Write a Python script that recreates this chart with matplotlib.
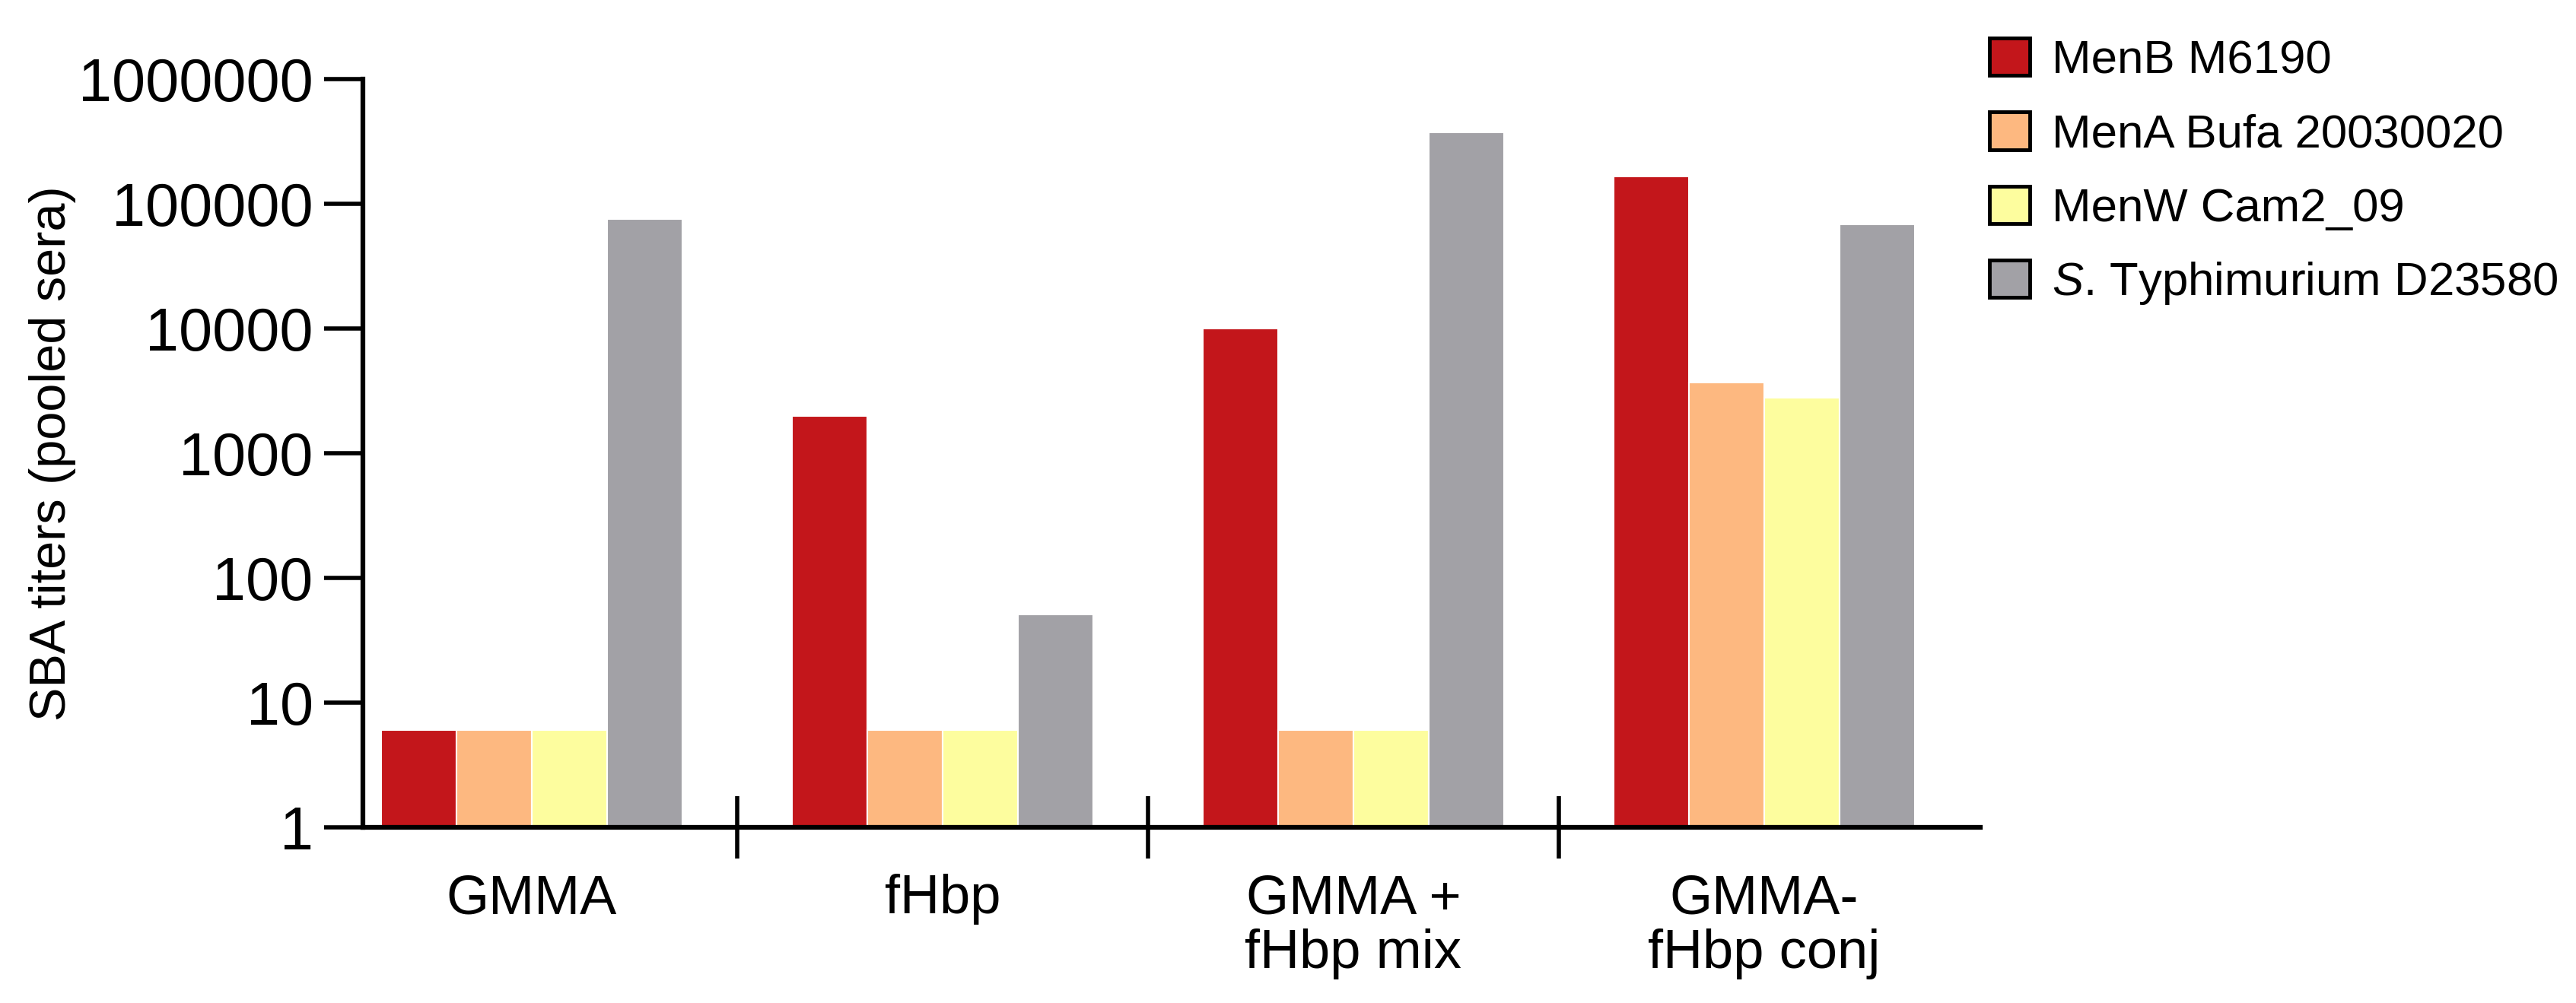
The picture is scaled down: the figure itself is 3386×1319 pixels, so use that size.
import matplotlib
matplotlib.use("Agg")
import matplotlib.pyplot as plt
import numpy as np

plt.rcParams['font.family'] = ['Liberation Sans', 'DejaVu Sans']
plt.rcParams['mathtext.fontset'] = 'custom'
plt.rcParams['mathtext.it'] = 'Liberation Sans:italic'
plt.rcParams['mathtext.rm'] = 'Liberation Sans'

categories = ["GMMA", "fHbp", "GMMA +\nfHbp mix", "GMMA-\nfHbp conj"]
series_names = ["MenB M6190", "MenA Bufa 20030020", "MenW Cam2_09", r"$\it{S}$. Typhimurium D23580"]
menb = [5, 2000, 10000, 165000]
mena = [5, 5, 5, 3700]
menw = [5, 5, 5, 2800]
styph = [75000, 50, 375000, 68000]
ytick_values = [1, 10, 100, 1000, 10000, 100000, 1000000]
ytick_labels = ["1", "10", "100", "1000", "10000", "100000", "1000000"]

colors = ["#C3161B", "#FDB880", "#FDFD9E", "#A2A1A6"]
series = [menb, mena, menw, styph]

W, H = 3386, 1319
fig = plt.figure(figsize=(W / 100, H / 100), dpi=100)
left, right, top, bottom = 477, 2603, 104, 1088
ax = fig.add_axes([left / W, 1 - bottom / H, (right - left) / W, (bottom - top) / H])

x = np.arange(len(categories))
w = 0.183
offsets = (np.arange(4) - 1.5) * w
handles = []
for s, vals, col in zip(range(4), series, colors):
    ax.bar(x + offsets[s], vals, width=w, bottom=1, color=col, edgecolor='white', linewidth=1.5)
    handles.append(plt.Rectangle((0, 0), 1, 1, facecolor=col, edgecolor='black', linewidth=3.5))

ax.set_yscale('log')
ax.set_ylim(1, 1e6)
ax.set_xlim(-0.411, 3.526)
ax.set_yticks(ytick_values)
ax.set_yticklabels(ytick_labels)
ax.yaxis.set_minor_locator(matplotlib.ticker.NullLocator())
ax.set_xticks(x)
ax.set_xticklabels(categories, fontsize=52, linespacing=1.1)
ax.set_xticks([0.5, 1.5, 2.5], minor=True)
ax.tick_params(axis='x', which='major', length=0, pad=44)
ax.tick_params(axis='x', which='minor', direction='inout', length=59, width=4)
ax.tick_params(axis='y', which='major', direction='out', length=37, width=4, labelsize=57, pad=10)

for side in ['top', 'right']:
    ax.spines[side].set_visible(False)
ax.spines['left'].set_linewidth(4.5)
ax.spines['bottom'].set_linewidth(4.5)

ax.set_ylabel("SBA titers (pooled sera)", fontsize=48)
ax.yaxis.set_label_coords(100 / W, 0.5, transform=matplotlib.transforms.blended_transform_factory(fig.transFigure, ax.transAxes))

fig.legend(handles, series_names, loc='upper left', bbox_to_anchor=(2615 / W, 1 - 50 / H),
           frameon=False, fontsize=44.5, handlelength=0.85, handleheight=0.85,
           handletextpad=0.48, labelspacing=0.62, borderpad=0, borderaxespad=0)

fig.savefig("out.png", dpi=100, facecolor='white')
